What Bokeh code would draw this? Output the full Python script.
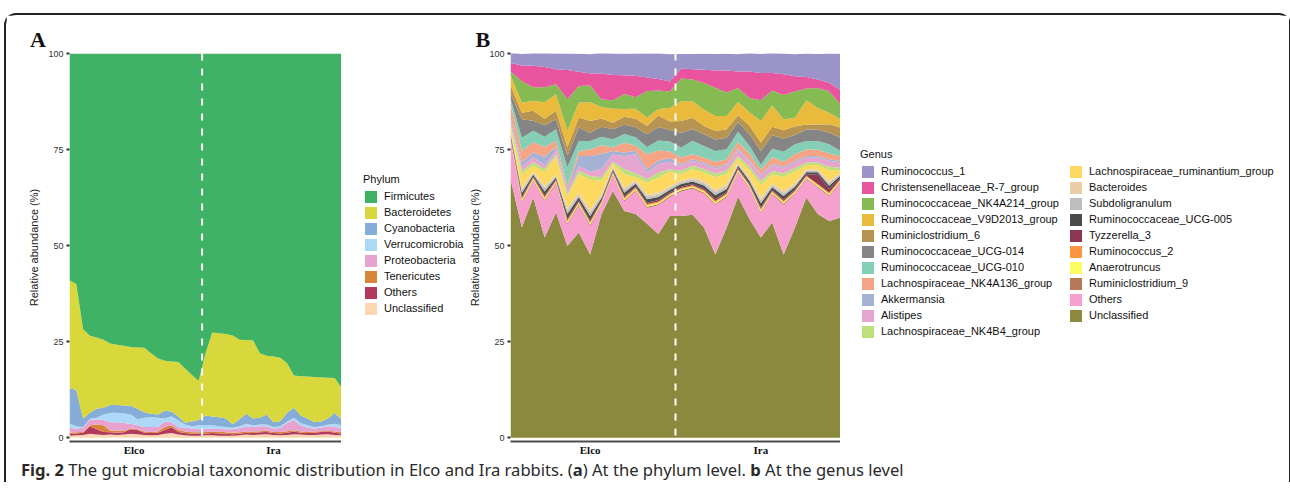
from bokeh.plotting import figure
from bokeh.models import (ColumnDataSource, Range1d, FixedTicker, Span, Legend,
                          LegendItem, Div, Spacer)
from bokeh.layouts import row, column
from bokeh.embed import file_html
from bokeh.resources import INLINE

# ---------------- Panel A : phylum level ----------------
groups = ["Elco", "Ira"]
n_elco_a = 20
n_ira_a = 21

phyla = ["Firmicutes", "Bacteroidetes", "Cyanobacteria", "Verrucomicrobia",
         "Proteobacteria", "Tenericutes", "Others", "Unclassified"]
phylum_colors = ["#3FB266", "#D8D83C", "#85ADD7", "#ADD8F7",
                 "#E8A2CF", "#D9843B", "#B2385E", "#FDD7B1"]

firmicutes = [59.0, 60.0, 71.8, 73.5, 73.9, 74.5, 75.5, 75.8, 76.1, 76.4, 76.5, 76.6, 78.0, 79.3, 80.0,
              80.2, 80.3, 82.0, 83.7, 85.2,
              78.0, 72.6, 72.8, 73.0, 73.4, 74.5, 74.6, 74.7, 78.0, 78.7, 78.9, 79.2, 80.6, 83.8, 84.0,
              84.1, 84.2, 84.3, 84.4, 84.5, 87.0]
bacteroidetes = [28.1, 27.6, 23.2, 20.0, 18.6, 17.7, 16.0, 15.7, 15.5, 15.3, 16.0, 16.8, 15.8, 14.7, 13.0,
                 13.0, 14.2, 14.1, 12.1, 10.2,
                 16.2, 21.9, 21.9, 22.0, 23.1, 20.7, 19.2, 20.3, 16.8, 15.3, 17.1, 16.5, 12.9, 8.4, 10.2,
                 10.9, 11.8, 11.5, 10.6, 9.1, 8.2]
cyanobacteria = [9.2, 9.4, 2.2, 1.6, 2.3, 1.8, 2.0, 2.0, 2.1, 2.3, 2.7, 1.4, 0.8, 0.8, 2.0, 1.2, 1.0, 0.5, 1.2, 1.4,
                 2.5, 2.3, 2.3, 2.2, 0.9, 1.8, 2.6, 1.8, 1.8, 2.6, 1.2, 1.3, 2.3, 2.6, 2.0, 1.8, 1.2, 1.2, 1.6,
                 2.8, 1.6]
verrucomicrobia = [1.1, 0.7, 0.2, 0.3, 0.4, 1.4, 2.5, 2.5, 2.5, 2.4, 1.6, 2.4, 2.6, 2.4, 0.8, 1.6, 1.7, 0.8, 0.6,
                   0.9,
                   1.0, 0.8, 0.7, 0.6, 0.4, 0.5, 0.6, 0.4, 0.4, 0.4, 0.4, 0.5, 0.4, 0.6, 0.6, 0.6, 0.4, 0.4, 0.4,
                   0.8, 0.8]
proteobacteria = [1.3, 0.9, 1.1, 1.4, 1.4, 1.4, 2.2, 2.2, 2.0, 1.2, 1.0, 1.2, 1.3, 1.2, 1.4, 0.8, 0.8, 1.0, 1.0,
                  0.9,
                  0.8, 0.8, 0.7, 0.8, 0.9, 1.1, 1.4, 1.2, 1.3, 1.2, 0.9, 1.0, 2.1, 2.7, 1.6, 1.1, 0.8, 0.9, 1.2,
                  1.2, 1.0]
tenericutes = [0.4, 0.3, 0.2, 0.2, 1.2, 1.7, 0.4, 0.5, 0.4, 0.2, 0.2, 0.3, 0.3, 0.3, 0.8, 0.5, 0.5, 0.4, 0.4, 0.4,
               0.4, 0.4, 0.5, 0.4, 0.4, 0.4, 0.3, 0.4, 0.3, 0.3, 0.3, 0.4, 0.4, 0.3, 0.3, 0.3, 0.3, 0.2, 0.2,
               0.3, 0.3]
others_a = [0.4, 0.5, 0.6, 2.0, 1.4, 0.8, 0.6, 0.6, 0.6, 1.2, 1.1, 0.6, 0.6, 0.6, 1.0, 1.5, 0.7, 0.6, 0.5, 0.5,
            0.5, 0.6, 0.6, 0.5, 0.4, 0.4, 0.5, 0.5, 0.6, 0.6, 0.5, 0.5, 0.6, 0.7, 0.5, 0.5, 0.6, 0.7, 0.7,
            0.6, 0.5]
unclassified_a = [0.5, 0.6, 0.7, 1.0, 0.8, 0.7, 0.8, 0.7, 0.8, 1.0, 0.9, 0.7, 0.6, 0.7, 1.0, 1.2, 0.8, 0.6, 0.5,
                  0.5,
                  0.6, 0.6, 0.5, 0.5, 0.5, 0.6, 0.8, 0.7, 0.8, 0.9, 0.7, 0.6, 0.7, 0.9, 0.8, 0.7, 0.7, 0.8, 0.9,
                  0.7, 0.6]
phylum_values = [firmicutes, bacteroidetes, cyanobacteria, verrucomicrobia,
                 proteobacteria, tenericutes, others_a, unclassified_a]

# ---------------- Panel B : genus level ----------------
n_elco_b = 15
n_ira_b = 15
genera = ["Ruminococcus_1", "Christensenellaceae_R-7_group", "Ruminococcaceae_NK4A214_group",
          "Ruminococcaceae_V9D2013_group", "Ruminiclostridium_6", "Ruminococcaceae_UCG-014",
          "Ruminococcaceae_UCG-010", "Lachnospiraceae_NK4A136_group", "Akkermansia", "Alistipes",
          "Lachnospiraceae_NK4B4_group", "Lachnospiraceae_ruminantium_group", "Bacteroides",
          "Subdoligranulum", "Ruminococcaceae_UCG-005", "Tyzzerella_3", "Ruminococcus_2",
          "Anaerotruncus", "Ruminiclostridium_9", "Others", "Unclassified"]
genus_colors = ["#9A94C8", "#E8549D", "#86BB53", "#E9BA3B", "#B79452", "#858585", "#86CFB7",
                "#F6A486", "#A6B1D6", "#E6A5CF", "#BEE07A", "#FDDA5F", "#E8CFA8", "#BEBEBE",
                "#4B4B4B", "#8D3853", "#FC9640", "#FCFC63", "#B67859", "#F6A0CE", "#8A893E"]

ruminococcus_1 = [2.8, 3.0, 3.3, 3.6, 4.1, 4.3, 4.7, 5.0, 5.4, 5.6, 5.6, 5.8, 6.3, 6.7, 7.1,
                  3.8, 4.0, 4.2, 4.3, 4.4, 4.5, 4.8, 5.0, 5.2, 5.4, 5.7, 6.1, 6.7, 7.6, 9.5]
christensenellaceae = [2.2, 4.1, 5.6, 5.3, 3.9, 7.6, 3.7, 3.1, 6.8, 6.6, 4.9, 5.6, 3.5, 3.0, 2.6,
                       2.6, 2.7, 3.4, 4.5, 5.7, 4.3, 6.9, 7.1, 4.5, 5.4, 4.0, 3.0, 2.2, 2.2, 3.6]
nk4a214 = [0.9, 5.6, 3.5, 3.9, 2.6, 8.2, 4.3, 4.4, 1.9, 2.2, 3.9, 3.0, 6.9, 4.8, 4.3,
           5.9, 5.6, 6.9, 7.4, 6.1, 3.6, 3.7, 5.4, 3.9, 6.3, 6.8, 3.1, 5.2, 5.6, 3.9]
v9d2013 = [2.6, 2.6, 2.6, 4.3, 4.3, 4.3, 3.9, 4.9, 3.0, 3.6, 2.0, 2.6, 2.2, 1.7, 3.5,
           5.2, 4.3, 4.3, 3.9, 3.5, 3.5, 3.5, 5.6, 5.6, 2.9, 2.3, 6.3, 4.3, 3.0, 2.2]
ruminiclostridium_6 = [2.2, 1.7, 2.6, 1.7, 2.2, 2.2, 2.6, 3.0, 2.2, 1.7, 2.1, 2.2, 2.2, 3.0, 2.2,
                       3.0, 3.0, 2.2, 2.2, 2.2, 1.7, 2.2, 2.2, 2.2, 2.1, 2.2, 1.3, 1.3, 2.2, 2.6]
ucg014 = [1.3, 4.8, 2.6, 3.0, 2.6, 3.0, 3.5, 2.2, 2.6, 2.6, 2.4, 2.6, 3.3, 3.5, 3.0,
          3.9, 3.0, 3.0, 3.0, 3.0, 2.6, 3.0, 3.5, 3.5, 3.5, 2.4, 3.0, 3.0, 3.0, 3.5]
ucg010 = [1.3, 3.5, 3.0, 2.6, 3.0, 4.8, 2.6, 2.2, 2.2, 2.2, 2.2, 2.2, 1.9, 2.6, 2.6,
          2.6, 3.5, 3.0, 2.8, 2.6, 2.6, 2.0, 1.3, 2.2, 2.6, 2.6, 2.2, 2.2, 2.4, 1.3]
nk4a136 = [3.5, 3.0, 2.6, 2.6, 1.7, 0.9, 1.3, 1.7, 2.2, 0.9, 2.6, 1.3, 3.9, 2.6, 1.7,
           1.7, 1.3, 1.3, 1.4, 1.3, 1.7, 1.7, 1.3, 1.7, 1.3, 1.7, 1.7, 1.7, 1.5, 1.3]
akkermansia = [0.9, 1.1, 1.3, 2.2, 0.9, 0.4, 2.6, 4.1, 3.9, 0.9, 0.9, 0.9, 0.9, 0.9, 1.0,
               0.4, 0.4, 0.4, 0.4, 0.4, 0.5, 0.4, 0.4, 0.4, 0.4, 0.4, 0.4, 0.4, 0.4, 0.4]
alistipes = [0.9, 1.0, 1.3, 0.9, 0.9, 0.9, 1.3, 1.1, 2.2, 1.9, 3.5, 5.0, 1.7, 2.2, 2.0,
             1.3, 1.3, 1.3, 1.3, 1.3, 1.5, 1.3, 1.3, 1.5, 1.3, 1.5, 1.3, 1.3, 1.6, 1.3]
nk4b4 = [0.7, 0.9, 0.9, 0.9, 0.7, 0.7, 0.9, 0.9, 0.9, 0.5, 1.3, 1.0, 0.9, 1.3, 0.6,
         0.9, 0.9, 0.9, 0.9, 0.9, 0.6, 0.9, 1.0, 0.9, 0.9, 0.9, 0.6, 0.6, 0.9, 0.7]
ruminantium = [0.9, 3.5, 1.5, 3.5, 4.5, 2.8, 4.8, 7.8, 3.5, 0.6, 3.5, 0.7, 3.0, 3.9, 3.7,
               1.6, 2.2, 2.2, 3.2, 2.6, 1.1, 1.9, 3.3, 2.3, 3.7, 3.0, 1.1, 1.1, 2.8, 0.6]
bacteroides = [0.5, 0.7, 0.4, 0.7, 0.4, 0.8, 0.6, 0.8, 0.5, 0.4, 0.6, 0.5, 0.6, 0.6, 0.5,
               0.5, 0.5, 0.6, 0.7, 0.6, 0.4, 0.5, 0.7, 0.5, 0.6, 0.5, 0.4, 0.4, 0.6, 0.4]
subdoligranulum = [0.5, 0.7, 0.4, 0.8, 0.4, 0.9, 0.6, 0.9, 0.5, 0.4, 0.7, 0.5, 0.7, 0.6, 0.5,
                   0.5, 0.5, 0.6, 0.8, 0.6, 0.4, 0.5, 0.8, 0.5, 0.7, 0.5, 0.4, 0.4, 0.6, 0.4]
ucg005 = [0.6, 1.0, 0.5, 1.0, 0.5, 1.2, 0.8, 1.1, 0.6, 0.5, 0.9, 0.7, 0.9, 0.8, 0.7,
          0.7, 0.7, 0.8, 1.0, 0.8, 0.6, 0.7, 1.0, 0.7, 0.9, 0.7, 0.6, 0.6, 0.8, 0.6]
tyzzerella_3 = [0.3, 0.4, 0.3, 0.4, 0.3, 0.4, 0.35, 0.4, 0.3, 0.3, 0.35, 0.3, 0.35, 0.35, 0.3,
                0.3, 0.3, 0.35, 0.4, 0.35, 0.3, 0.3, 0.4, 0.3, 0.35, 0.3, 0.3, 2.5, 1.0, 0.3]
ruminococcus_2 = [0.3, 0.4, 0.3, 0.4, 0.3, 0.4, 0.35, 0.4, 0.3, 0.3, 0.35, 0.3, 0.35, 0.35, 0.3,
                  0.3, 0.3, 0.35, 0.4, 0.35, 0.3, 0.3, 0.4, 0.3, 0.35, 0.3, 0.3, 0.3, 0.35, 0.3]
anaerotruncus = [0.3, 0.4, 0.3, 0.4, 0.3, 0.4, 0.35, 0.4, 0.3, 0.3, 0.35, 0.3, 0.35, 0.35, 0.3,
                 0.3, 0.3, 0.35, 0.4, 0.35, 0.3, 0.3, 0.4, 0.3, 0.35, 0.3, 0.3, 0.3, 0.35, 0.3]
ruminiclostridium_9 = [0.3, 0.4, 0.3, 0.3, 0.3, 0.4, 0.3, 0.4, 0.3, 0.3, 0.3, 0.3, 0.3, 0.3, 0.3,
                       0.3, 0.3, 0.3, 0.3, 0.3, 0.3, 0.3, 0.3, 0.3, 0.35, 0.3, 0.3, 0.3, 0.3, 0.3]
others_b = [10.0, 6.4, 4.3, 9.5, 7.5, 5.5, 7.0, 7.3, 2.4, 4.0, 2.5, 6.0, 4.1, 7.5, 4.9,
            6.4, 6.8, 8.8, 12.9, 7.9, 6.3, 8.0, 6.4, 7.3, 12.9, 8.7, 4.8, 6.9, 6.4, 9.1]
unclassified_b = [67.3, 54.7, 62.5, 52.1, 58.6, 49.9, 53.4, 47.7, 58.2, 64.2, 59.0, 58.2, 55.7, 53.0, 57.7,
                  57.7, 58.0, 54.7, 47.7, 54.7, 62.7, 56.9, 52.1, 56.0, 47.7, 54.7, 62.5, 58.2, 56.4, 57.3]
genus_values = [ruminococcus_1, christensenellaceae, nk4a214, v9d2013, ruminiclostridium_6, ucg014,
                ucg010, nk4a136, akkermansia, alistipes, nk4b4, ruminantium, bacteroides,
                subdoligranulum, ucg005, tyzzerella_3, ruminococcus_2, anaerotruncus,
                ruminiclostridium_9, others_b, unclassified_b]

y_ticks = [0, 25, 50, 75, 100]

SANS = "Liberation Sans"
SERIF = "Liberation Serif"
FRAME_H = 388
TOP = 38
BOTTOM = 19


def make_panel(letter, names, colors, values, n_elco, n_ira, left, fw, letter_offset):
    n = n_elco + n_ira
    xs = list(range(1, n + 1))
    data = {"x": xs}
    for nm, v in zip(names, values):
        data[nm] = v
    src = ColumnDataSource(data)

    p = figure(frame_width=fw, frame_height=FRAME_H, min_border_left=left,
               min_border_right=0, min_border_top=TOP, min_border_bottom=BOTTOM,
               x_range=Range1d(1, n), y_range=Range1d(-1, 100),
               output_backend="svg", toolbar_location=None, title=letter)
    p.outline_line_color = None
    p.xgrid.visible = False
    p.ygrid.visible = False
    p.background_fill_color = "white"
    p.border_fill_color = "white"

    # stack bottom -> top : reversed legend order
    stack_names = list(reversed(names))
    stack_colors = list(reversed(colors))
    p.varea_stack(stackers=stack_names, x="x", color=stack_colors, source=src)

    p.add_layout(Span(location=n_elco + 0.5, dimension="height", line_color="white",
                      line_width=2, line_dash="7 8"))

    # title letter
    p.title.text_font = SERIF
    p.title.text_font_style = "bold"
    p.title.text_font_size = "22px"
    p.title.align = "left"
    p.title.offset = letter_offset
    p.title.standoff = 3
    p.title.text_color = "#111111"

    # y axis
    ya = p.yaxis[0]
    ya.ticker = FixedTicker(ticks=y_ticks)
    ya.axis_line_color = None
    ya.major_tick_out = 3
    ya.major_tick_in = 0
    ya.major_tick_line_width = 2
    ya.major_tick_line_color = "#333333"
    ya.minor_tick_line_color = None
    ya.major_label_text_font = SANS
    ya.major_label_text_font_size = "9px"
    ya.major_label_text_color = "#333333"
    ya.major_label_standoff = 3
    ya.axis_label = "Relative abundance (%)"
    ya.axis_label_text_font = SANS
    ya.axis_label_text_font_size = "11px"
    ya.axis_label_text_font_style = "normal"
    ya.axis_label_text_color = "#222222"
    ya.axis_label_standoff = 5

    # x axis
    c1 = (1 + n_elco) / 2
    c2 = (n_elco + 1 + n) / 2
    xa = p.xaxis[0]
    xa.ticker = FixedTicker(ticks=[c1, c2])
    xa.major_label_overrides = {c1: groups[0], c2: groups[1]}
    xa.major_tick_line_color = None
    xa.major_tick_out = 0
    xa.major_tick_in = 0
    xa.minor_tick_line_color = None
    xa.minor_tick_out = 0
    xa.axis_line_color = "#4D4D4D"
    xa.axis_line_width = 2
    xa.major_label_text_font = SERIF
    xa.major_label_text_font_style = "bold"
    xa.major_label_text_font_size = "11px"
    xa.major_label_text_color = "#111111"
    xa.major_label_standoff = 2
    return p


def style_legend(lg):
    lg.glyph_width = 15
    lg.glyph_height = 15
    lg.label_height = 15
    lg.spacing = 1
    lg.padding = 0
    lg.margin = 0
    lg.label_standoff = 6
    lg.label_text_font = SANS
    lg.label_text_font_size = "11px"
    lg.label_text_color = "#111111"
    lg.title_text_font = SANS
    lg.title_text_font_size = "11px"
    lg.title_text_font_style = "normal"
    lg.title_text_color = "#111111"
    lg.title_standoff = 4
    lg.border_line_color = None
    lg.background_fill_alpha = 0


def legend_panel(width, names, colors, specs):
    """Key panel: one legend column per spec (title, first, last, (x, y))."""
    lf = figure(frame_width=width, frame_height=FRAME_H, min_border_left=0,
                min_border_right=0, min_border_top=TOP, min_border_bottom=BOTTOM,
                x_range=Range1d(0, 1), y_range=Range1d(0, 1),
                x_axis_location=None, y_axis_location=None,
                output_backend="svg", toolbar_location=None)
    lf.outline_line_color = None
    lf.xgrid.visible = False
    lf.ygrid.visible = False
    keys = {}
    for nm, c in zip(names, colors):
        # zero-area key glyph (only its colour is used by the legend)
        keys[nm] = lf.varea(x=[0], y1=[0], y2=[0], fill_color=c)
    for title, a, b, loc in specs:
        lg = Legend(items=[LegendItem(label=nm, renderers=[keys[nm]]) for nm in names[a:b]],
                    location=loc, title=title)
        style_legend(lg)
        lf.add_layout(lg)
    return lf


pA = make_panel("A", phyla, phylum_colors, phylum_values, n_elco_a, n_ira_a, 63, 272, -39.5)
lA = legend_panel(125, phyla, phylum_colors, [("Phylum", 0, 8, (22, 125.5))])

pB = make_panel("B", genera, genus_colors, genus_values, n_elco_b, n_ira_b, 41, 330, -35)
lB = legend_panel(449, genera, genus_colors,
                  [("Genus", 0, 11, (20, 102.5)), (None, 11, 21, (228, 118.5))])

caption = Div(text='<b>Fig. 2</b> The gut microbial taxonomic distribution in Elco and Ira rabbits. '
                   '(<b>a</b>) At the phylum level. <b>b</b> At the genus level',
              width=1265, height=22, margin=(0, 0, 0, 0),
              styles={"font-family": "'Noto Sans', sans-serif", "font-size": "16.6px",
                      "color": "#2A2A2A", "padding-left": "15px", "line-height": "20px",
                      "white-space": "nowrap"})

inner = column(row(pA, lA, pB, lB), caption,
               styles={"border": "2px solid #222222", "border-bottom": "none",
                       "border-radius": "12px 12px 0 0", "background": "white"})
root = column(Spacer(height=13), row(Spacer(width=4), inner))

open("out.html", "w").write(file_html(root, INLINE))
